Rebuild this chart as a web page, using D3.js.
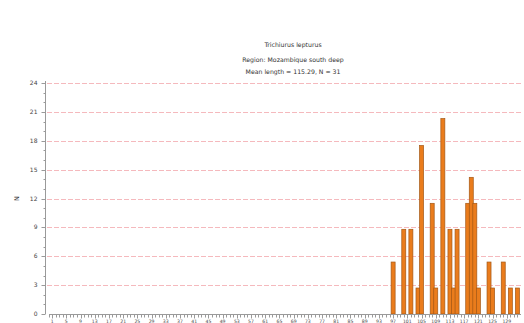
<!DOCTYPE html>
<html>
<head>
<meta charset="utf-8">
<script src="https://cdn.jsdelivr.net/npm/d3@7/dist/d3.min.js"></script>
<style>
  html, body { margin: 0; padding: 0; background: #fff; }
  svg { display: block; font-family: "DejaVu Sans", Tahoma, sans-serif; }
</style>
</head>
<body>
<svg id="chart" width="524" height="323"></svg>
<script>
// Length-frequency histogram, Trichiurus lepturus
const titleLines = ["Trichiurus lepturus", "Region: Mozambique south deep", "Mean length = 115.29, N = 31"];
const lengthClass = [97, 100, 102, 104, 105, 108, 109, 111, 113, 114, 115, 118, 119, 120, 121, 124, 125, 128, 130, 132];
const frequency   = [5.4, 8.8, 8.8, 2.7, 17.5, 11.5, 2.7, 20.3, 8.8, 2.7, 8.8, 11.5, 14.2, 11.5, 2.7, 5.4, 2.7, 5.4, 2.7, 2.7];
const yTicks = [0, 3, 6, 9, 12, 15, 18, 21, 24];
const xTickLabels = [1, 5, 9, 13, 17, 21, 25, 29, 33, 37, 41, 45, 49, 53, 57, 61, 65, 69, 73, 77, 81, 85, 89, 93, 97, 101, 105, 109, 113, 117, 121, 125, 129];

const svg = d3.select("#chart");
const plotLeft = 45, plotRight = 521, plotTop = 83, plotBottom = 314;

const x = d3.scaleLinear().domain([-1, 133]).range([plotLeft, plotRight]);
const y = d3.scaleLinear().domain([0, 24]).range([plotBottom, plotTop]);

// Title block
svg.selectAll("text.title").data(titleLines).join("text")
  .attr("class", "title")
  .attr("x", 293)
  .attr("y", (d, i) => [47, 62, 74][i])
  .attr("text-anchor", "middle")
  .attr("font-size", 6.2)
  .attr("fill", "#333")
  .text(d => d);

// Horizontal grid lines
svg.append("g").selectAll("line").data(yTicks.filter(d => d > 0)).join("line")
  .attr("x1", plotLeft + 2).attr("x2", plotRight)
  .attr("y1", d => Math.round(y(d)) + 0.5).attr("y2", d => Math.round(y(d)) + 0.5)
  .attr("stroke", "#f5b9bd")
  .attr("stroke-width", 1)
  .attr("stroke-dasharray", "5,2");

// Y axis with minor ticks
const yAxis = svg.append("g").attr("transform", `translate(${plotLeft + 0.5},0)`);
yAxis.append("line").attr("y1", plotTop - 2).attr("y2", plotBottom).attr("stroke", "#9a9a9a");
yAxis.selectAll("line.minor").data(d3.range(0, 25)).join("line")
  .attr("class", "minor")
  .attr("x1", d => d % 3 === 0 ? -4 : -2).attr("x2", 0)
  .attr("y1", d => Math.round(y(d)) + 0.5).attr("y2", d => Math.round(y(d)) + 0.5)
  .attr("stroke", "#9a9a9a");
yAxis.selectAll("text").data(yTicks).join("text")
  .attr("x", -8).attr("y", d => y(d) + 2)
  .attr("text-anchor", "end")
  .attr("font-size", 6)
  .attr("fill", "#444")
  .text(d => d);

svg.append("text")
  .attr("transform", `translate(19,${(plotTop + plotBottom) / 2}) rotate(-90)`)
  .attr("text-anchor", "middle")
  .attr("font-size", 6.5)
  .attr("fill", "#333")
  .text("N");

// Bars
svg.append("g").selectAll("rect").data(lengthClass).join("rect")
  .attr("x", d => x(d) - 2)
  .attr("width", 4)
  .attr("y", (d, i) => y(frequency[i]))
  .attr("height", (d, i) => plotBottom - y(frequency[i]))
  .attr("fill", "#ea7c1c")
  .attr("stroke", "#a35816")
  .attr("stroke-width", 0.7);

// X axis with a tick for every class
const xAxis = svg.append("g").attr("transform", `translate(0,${plotBottom + 0.5})`);
xAxis.append("line").attr("x1", plotLeft + 4).attr("x2", plotRight).attr("stroke", "#9a9a9a");
xAxis.selectAll("line.tick").data(d3.range(0, 133)).join("line")
  .attr("class", "tick")
  .attr("x1", d => Math.round(x(d)) + 0.5).attr("x2", d => Math.round(x(d)) + 0.5)
  .attr("y1", 0).attr("y2", d => (d - 1) % 4 === 0 ? 4 : 3)
  .attr("stroke", "#9a9a9a");
xAxis.selectAll("text").data(xTickLabels).join("text")
  .attr("x", d => x(d)).attr("y", 8.3)
  .attr("text-anchor", "middle")
  .attr("font-size", 4.6)
  .attr("fill", "#444")
  .text(d => d);
</script>
</body>
</html>
